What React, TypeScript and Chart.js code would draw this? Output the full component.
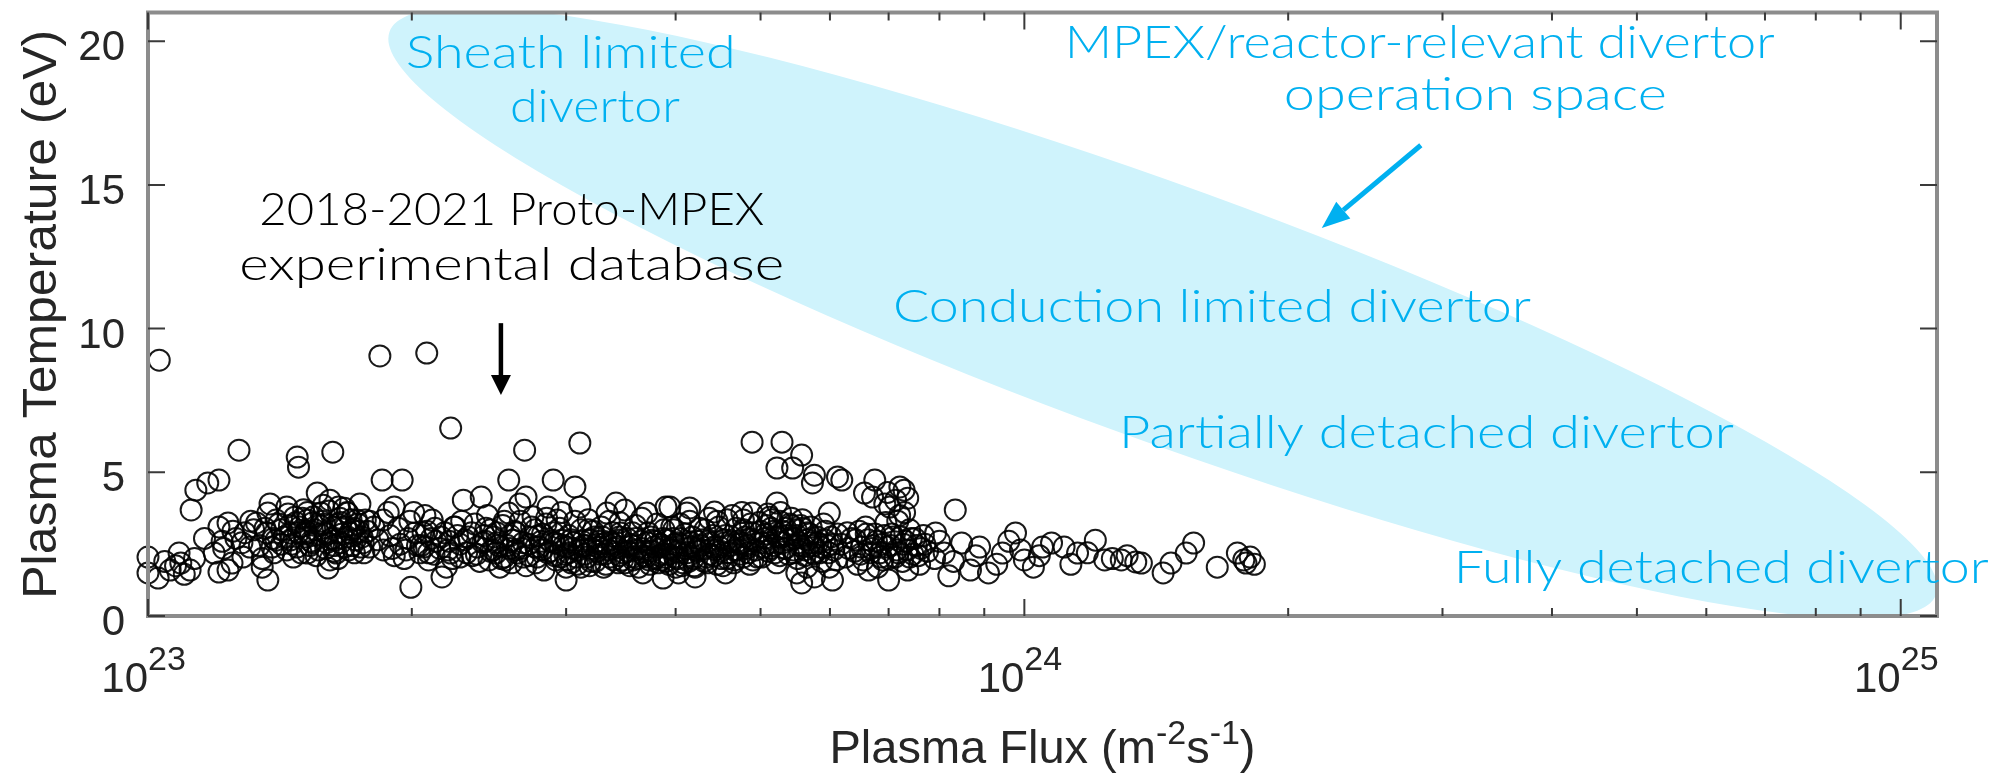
import React, { useEffect, useRef } from 'react';
import { Chart, registerables } from 'chart.js';

Chart.register(...registerables);

// ---------- DATA ----------
// Plasma flux in units of 1e23 m^-2 s^-1
const fluxE23 = [
  1.00, 1.00, 1.027, 1.06, 1.085, 1.09, 1.117, 1.03, 1.045, 1.10, 1.075, 1.13,
  1.12, 1.134, 1.17, 1.205, 1.27, 1.205, 1.234, 1.19, 1.205, 1.234, 1.247, 1.283, 1.307, 1.32, 1.33, 1.35, 1.37, 1.16, 1.215, 1.26, 1.29,
  1.37, 1.40, 1.44, 1.40, 1.385, 1.452, 1.47, 1.51, 1.52, 1.54, 1.48, 1.485, 1.42, 1.49, 1.46, 1.44, 1.52,
  1.35, 1.365, 1.378, 1.392, 1.41, 1.43, 1.445, 1.465, 1.485, 1.50, 1.53, 1.55, 1.565, 1.585, 1.60, 1.625, 1.647, 1.665, 1.687, 1.71, 1.736, 1.763, 1.78,
  1.56, 1.625, 1.613, 1.65, 1.69, 1.73, 1.575, 1.595, 1.635, 1.674, 1.71, 1.755, 1.613, 1.605, 1.64, 1.52, 1.68, 1.72, 1.656, 1.745, 1.70, 1.59,
  1.77, 1.81, 1.79, 1.855, 1.85, 1.95, 1.91, 1.855, 1.97, 1.995, 2.015, 2.065, 2.09, 2.11, 2.165, 2.19, 2.215, 2.235, 2.29, 2.215, 1.839, 2.08, 1.888, 1.94, 2.043, 2.13, 2.18, 1.99, 2.07, 1.91, 2.27,
  1.83, 1.88, 1.90, 1.93, 1.96, 1.98, 2.01, 2.03, 2.06, 2.09, 2.105, 2.125, 2.153, 2.205, 2.225, 2.255, 2.28, 2.31,
  2.32, 2.375, 2.40, 2.46, 2.495, 2.52, 2.58, 2.58, 2.61, 2.64, 2.69, 2.70, 2.765, 2.80, 2.86, 2.90, 2.93, 2.97, 3.00, 3.00,
  3.07, 3.11, 3.11, 3.18, 3.26, 3.34, 3.42, 3.46, 3.50, 3.58, 3.67, 3.71, 3.76, 3.85, 3.94, 3.98, 4.03, 4.12, 4.17, 4.21,
  2.345, 2.36, 2.39, 2.425, 2.44, 2.475, 2.50, 2.53, 2.55, 2.57, 2.60, 2.62, 2.656, 2.67, 2.70, 2.727, 2.75, 2.78, 2.81, 2.83, 2.845, 2.874, 2.90, 2.92, 2.94, 2.965, 2.99, 3.02, 3.05, 3.07,
  3.09, 3.13, 3.15, 3.18, 3.20, 3.23, 3.255, 3.29, 3.31, 3.33, 3.365, 3.39, 3.41, 3.44, 3.454, 3.49, 3.52, 3.546, 3.565, 3.60,
  3.62, 3.65, 3.69, 3.72, 3.74, 3.78, 3.81, 3.83, 3.87, 3.90, 3.93, 3.96, 3.99, 4.02, 4.07, 4.10, 4.12, 4.15, 4.19, 4.24,
  3.90, 4.15, 4.43, 4.89, 5.22, 5.99, 4.78, 5.12, 5.57, 5.76, 6.04, 5.50, 5.99, 4.56, 4.21, 3.87, 4.00, 7.00, 7.36, 6.64, 6.89,
  4.89, 5.29, 5.57, 5.22, 5.44, 5.76, 5.73, 6.12, 6.19, 6.75, 6.57, 6.71, 7.21, 7.29, 7.13, 7.02, 8.34, 6.93, 6.98, 7.30, 7.36, 7.17,
  4.285, 4.32, 4.35, 4.39, 4.42, 4.46, 4.49, 4.53, 4.56, 4.60, 4.64, 4.67, 4.71, 4.75, 4.78, 4.82, 4.86, 4.89, 4.94,
  4.98, 5.015, 5.055, 5.095, 5.135, 5.175, 5.215, 5.258, 5.30, 5.34, 5.38, 5.425, 5.47, 5.51, 5.556, 5.60, 5.645, 5.689, 5.735,
  5.81, 5.87, 5.93, 6.06, 6.25, 6.35, 6.45, 6.52, 6.59, 6.68, 6.75, 6.80, 6.89, 6.95, 7.00, 7.08, 7.15, 7.206, 7.26, 7.32, 7.397, 7.46, 7.53, 7.594, 7.67, 7.755,
  7.92, 8.10, 8.48, 8.68, 8.89, 9.10, 9.44, 9.77, 10.0, 10.24, 10.49, 10.74, 11.1, 11.5, 12.05, 12.35, 12.9, 13.4, 13.6, 14.4, 14.7, 15.3, 15.6, 16.6, 17.5, 17.9, 17.8, 18.3, 18.1,
  8.8, 9.3, 9.6, 8.3, 10.4, 11.3, 11.8, 12.6, 13.1, 8.0, 9.9, 8.2, 7.9,
  1.455, 1.475, 1.495, 1.505, 1.515, 1.535, 1.545, 1.555, 1.57, 1.58, 1.595, 1.61, 1.62, 1.63, 1.645, 1.66, 1.675, 1.695, 1.705, 1.725, 1.74, 1.75,
  2.41, 2.43, 2.45, 2.48, 2.51, 2.54, 2.56, 2.59, 2.63, 2.66, 2.68, 2.72, 2.74, 2.77, 2.79, 2.82, 2.85, 2.88, 2.91, 2.95, 2.98, 3.01, 3.04, 3.08, 3.12, 3.16, 3.19, 3.22, 3.27, 3.32, 3.36, 3.40,
  3.45, 3.48, 3.53, 3.57, 3.61, 3.66, 3.70, 3.75, 3.79, 3.84, 3.88, 3.92, 3.97, 4.01, 4.05, 4.09, 4.14, 4.18, 4.22, 4.26,
  4.30, 4.34, 4.37, 4.41, 4.44, 4.48, 4.51, 4.55, 4.58, 4.62, 4.66, 4.69, 4.73, 4.76, 4.80, 4.84, 4.87, 4.91, 4.96, 5.00,
  5.04, 5.08, 5.11, 5.15, 5.19, 5.24, 5.27, 5.32, 5.36, 5.40, 5.45, 5.49, 5.53, 5.58, 5.62, 5.66, 5.71, 5.75,
  5.84, 5.90, 5.96, 6.02, 6.10, 6.18, 6.28, 6.40, 6.48, 6.55, 6.63, 6.72, 6.84, 6.92, 7.04, 7.12, 7.23, 7.35, 7.43, 7.57, 7.70,
  2.05, 2.08, 2.12, 2.16, 2.20, 2.24, 2.27, 2.30, 2.34, 2.37, 2.42, 2.46, 2.50, 2.55, 2.59, 2.63, 2.68, 2.72, 2.77, 2.82, 2.86, 2.91, 2.96, 3.00,
  3.02, 3.04, 3.06, 3.10, 3.12, 3.14, 3.17, 3.19, 3.21, 3.24, 3.26, 3.28, 3.30, 3.33, 3.35, 3.38, 3.40, 3.43, 3.45, 3.47, 3.50, 3.53,
  3.55, 3.58, 3.60, 3.63, 3.66, 3.68, 3.71, 3.73, 3.76, 3.79, 3.82, 3.85, 3.87, 3.90, 3.93, 3.96, 3.99, 4.02, 4.05, 4.08, 4.11,
  4.14, 4.17, 4.20, 4.24, 4.27, 4.31, 4.35, 4.38, 4.42, 4.46, 4.50, 4.54, 4.58, 4.62, 4.66, 4.70, 4.74, 4.78, 4.82, 4.86, 4.90,
  5.02, 5.06, 5.10, 5.14, 5.18, 5.22, 5.26, 5.30, 5.34, 5.38, 5.42, 5.46, 5.50, 5.54, 5.58, 5.62, 5.66, 5.70, 5.75, 5.80, 5.86, 5.92, 5.98, 6.05, 6.12,
  1.22, 1.25, 1.28, 1.31, 1.34, 1.36, 1.39, 1.42, 1.45, 1.48, 1.51, 1.54, 1.57, 1.60, 1.63, 1.66, 1.69, 1.72, 1.76, 1.79,
  6.30, 6.42, 6.50, 6.60, 6.70, 6.78, 6.86, 6.97, 7.06, 7.18, 7.28, 7.40, 7.50, 7.62,
];

// Plasma temperature in eV
const temperatureEV = [
  2.05, 1.50, 1.32, 1.60, 2.19, 1.84, 1.60, 8.90, 1.90, 1.45, 1.75, 2.00,
  3.69, 4.38, 4.63, 4.73, 5.77, 3.10, 3.24, 2.19, 1.53, 1.60, 1.84, 2.05, 2.40, 3.00, 3.24, 1.70, 1.25, 2.70, 2.60, 2.70, 2.90,
  3.58, 3.34, 3.79, 2.64, 2.40, 2.89, 3.44, 2.75, 2.19, 3.24, 5.53, 5.18, 3.00, 3.10, 2.50, 2.30, 3.60,
  2.00, 2.90, 3.90, 2.20, 3.20, 2.75, 3.55, 2.05, 2.90, 3.40, 2.45, 3.00, 2.30, 3.85, 2.55, 3.10, 2.00, 2.85, 3.60, 2.45, 3.20, 2.20, 2.95,
  4.28, 5.70, 4.03, 3.79, 3.58, 3.34, 3.58, 2.89, 2.64, 2.40, 3.00, 2.75, 1.95, 1.67, 2.19, 3.34, 3.10, 2.20, 3.40, 3.90, 2.90, 3.20,
  3.34, 3.10, 2.40, 2.30, 4.73, 4.73, 3.79, 3.34, 2.30, 1.00, 2.89, 2.40, 1.95, 3.34, 1.36, 1.70, 2.19, 3.10, 4.03, 6.54, 9.05, 9.15, 2.80, 2.50, 2.20, 2.60, 2.90, 3.30, 3.50, 2.10, 2.50,
  2.65, 3.60, 2.35, 3.05, 2.00, 2.70, 3.60, 2.45, 2.90, 2.20, 2.70, 3.05, 2.35, 2.60, 2.00, 2.80, 3.30, 2.20,
  2.75, 2.40, 4.14, 3.00, 2.19, 1.70, 4.73, 3.58, 2.64, 2.19, 5.77, 4.14, 3.00, 2.40, 3.79, 4.73, 3.34, 2.64, 1.70, 1.25,
  4.49, 6.02, 3.79, 3.00, 2.40, 3.58, 3.93, 2.89, 3.69, 1.95, 1.50, 3.58, 2.64, 1.95, 3.79, 3.00, 1.50, 3.58, 2.40, 1.70,
  2.10, 3.20, 1.90, 2.60, 3.50, 2.30, 2.90, 2.00, 3.30, 2.45, 1.85, 2.95, 3.90, 2.35, 1.75, 2.75, 3.45, 2.05, 2.60, 1.60, 3.20, 2.25, 2.90, 1.95, 2.50, 3.60, 2.15, 2.80, 2.35, 3.30,
  1.80, 2.60, 2.15, 3.35, 1.90, 2.75, 2.25, 3.10, 1.70, 2.55, 2.05, 2.90, 2.35, 1.85, 3.25, 2.20, 2.70, 1.75, 2.45, 3.15,
  2.00, 2.60, 2.25, 2.90, 1.80, 2.40, 3.20, 2.10, 2.70, 1.90, 2.35, 3.10, 2.05, 2.55, 1.75, 2.85, 2.20, 3.30, 2.00, 2.60,
  3.79, 3.76, 3.62, 3.58, 3.93, 3.58, 3.34, 3.44, 1.15, 1.36, 1.25, 1.50, 1.70, 1.50, 1.36, 1.32, 1.70, 1.25, 1.60, 1.60, 1.95,
  6.05, 6.05, 5.60, 5.15, 5.15, 4.90, 4.63, 4.84, 4.73, 4.73, 4.28, 4.14, 4.49, 4.38, 4.03, 3.79, 3.69, 3.90, 4.30, 3.60, 4.10, 3.30,
  2.30, 3.00, 1.85, 2.55, 2.10, 3.30, 2.40, 1.75, 2.80, 2.20, 3.50, 1.95, 2.60, 2.15, 3.00, 2.45, 1.80, 2.90, 2.30,
  3.25, 2.05, 2.70, 3.55, 2.35, 2.95, 1.85, 3.30, 2.55, 3.05, 2.15, 3.40, 2.70, 2.00, 3.15, 2.45, 1.70, 2.85, 2.20,
  2.55, 1.90, 2.95, 2.30, 2.05, 2.70, 1.80, 2.40, 3.10, 2.20, 2.85, 1.70, 2.50, 3.25, 2.00, 2.75, 2.30, 3.50, 1.90, 2.60, 3.00, 2.15, 2.45, 1.80, 2.80, 2.25,
  2.89, 2.19, 2.54, 1.60, 2.40, 1.50, 2.19, 2.89, 1.95, 1.70, 2.40, 2.54, 2.40, 2.19, 2.64, 1.95, 1.95, 1.88, 1.84, 1.50, 1.84, 2.19, 2.54, 1.70, 2.19, 1.84, 1.95, 1.80, 2.05,
  2.10, 1.80, 2.60, 1.90, 2.10, 1.80, 2.20, 2.00, 2.10, 2.60, 2.30, 1.40, 2.00,
  2.65, 3.25, 2.20, 3.70, 2.95, 2.60, 3.45, 2.10, 2.85, 3.30, 2.35, 3.65, 2.70, 2.25, 3.20, 2.55, 3.75, 2.30, 3.35, 2.65, 2.95, 2.40,
  2.55, 3.05, 1.95, 2.75, 2.45, 3.15, 1.95, 2.80, 2.30, 3.30, 2.05, 2.50, 3.10, 1.85, 2.80, 2.30, 3.40, 2.60, 2.10, 3.05, 2.45, 1.95, 2.65, 2.05, 3.00, 2.45, 1.75, 2.95, 2.60, 2.15, 3.30, 2.50,
  2.75, 1.95, 2.40, 2.90, 2.30, 3.40, 2.05, 2.75, 2.00, 2.50, 3.00, 2.15, 2.70, 2.25, 3.20, 2.45, 1.90, 2.75, 2.30, 3.05,
  2.65, 2.05, 3.40, 2.80, 2.30, 3.10, 2.00, 2.55, 3.35, 2.60, 2.30, 3.05, 2.50, 3.60, 2.75, 2.20, 3.20, 2.60, 2.05, 2.95,
  2.40, 3.15, 2.55, 3.35, 2.20, 2.75, 3.60, 2.35, 2.80, 3.20, 2.30, 3.00, 2.55, 3.35, 2.10, 2.65, 3.10, 2.45,
  2.20, 3.20, 2.45, 2.75, 1.95, 2.50, 2.90, 2.25, 2.95, 1.95, 2.65, 2.45, 2.20, 2.80, 2.45, 2.05, 2.75, 2.30, 2.70, 2.10, 2.50,
  2.45, 2.95, 2.15, 2.75, 2.30, 3.10, 2.05, 2.65, 2.90, 2.15, 2.80, 2.25, 2.55, 2.05, 2.35, 2.90, 2.55, 2.10, 2.40, 2.85, 2.20, 2.55, 2.05, 2.40,
  2.20, 1.85, 2.55, 2.30, 1.70, 2.45, 2.05, 2.65, 2.35, 1.90, 2.50, 2.15, 2.75, 1.80, 2.30, 2.55, 1.95, 2.40, 2.10, 2.65, 1.85, 2.25,
  2.50, 2.05, 2.70, 1.70, 2.35, 2.10, 2.55, 1.95, 2.25, 2.60, 1.85, 2.40, 2.15, 2.65, 1.80, 2.30, 2.50, 2.00, 2.70, 1.85, 2.35,
  2.10, 2.55, 1.75, 2.25, 2.45, 1.90, 2.60, 2.15, 2.40, 1.80, 2.25, 2.65, 2.00, 2.45, 1.85, 2.30, 2.55, 2.05, 2.35, 2.70, 1.95,
  2.55, 2.85, 2.25, 3.05, 2.45, 2.75, 2.10, 2.95, 2.35, 2.65, 3.15, 2.20, 2.80, 2.45, 3.05, 2.30, 2.90, 2.55, 2.15, 2.75, 2.40, 2.65, 2.20, 2.50, 2.85,
  2.35, 2.95, 2.55, 3.30, 2.45, 3.05, 2.70, 2.50, 3.15, 2.40, 2.85, 2.55, 3.15, 2.85, 2.45, 3.25, 2.75, 3.05, 2.55, 3.30,
  2.35, 2.65, 2.15, 2.85, 2.35, 2.60, 2.05, 2.40, 2.85, 2.20, 2.50, 2.05, 2.70, 2.35,
];

const yTickValues = [0, 5, 10, 15, 20];
const yTickLabels = ['0', '5', '10', '15', '20'];
const xMajorExponents = [23, 24, 25];
const xMinorMultipliers = [2, 3, 4, 5, 6, 7, 8, 9];

const X_MIN = 1e23;
const X_MAX = 1.1e25;
const Y_MIN = 0;
const Y_MAX = 21;

const CYAN = 'rgb(0,176,240)';
const ELLIPSE_FILL = 'rgb(207,243,252)';
const AXIS_TEXT = '#262626';
const ANNOT_FONT = '300 46px Lato, "Noto Sans", sans-serif';

// Annotations in data coordinates (log10 flux, temperature)
const annotationTexts = [
  { text: 'Sheath limited', lx: 23.294, t: 19.06, w: 330, color: CYAN },
  { text: 'divertor', lx: 23.413, t: 17.18, w: 170, color: CYAN },
  { text: 'MPEX/reactor-relevant divertor', lx: 24.046, t: 19.41, w: 710, color: CYAN },
  { text: 'operation space', lx: 24.296, t: 17.6, w: 383, color: CYAN },
  { text: '2018-2021 Proto-MPEX', lx: 23.127, t: 13.6, w: 505, color: '#000' },
  { text: 'experimental database', lx: 23.104, t: 11.69, w: 545, color: '#000' },
  { text: 'Conduction limited divertor', lx: 23.85, t: 10.23, w: 638, color: CYAN },
  { text: 'Partially detached divertor', lx: 24.108, t: 5.84, w: 615, color: CYAN },
  { text: 'Fully detached divertor', lx: 24.49, t: 1.15, w: 535, color: CYAN },
];

const annotationArrows = [
  { from: [24.4524, 16.38], to: [24.3394, 13.5], color: CYAN, lw: 5, head: 28, headW: 22 },
  { from: [23.4027, 10.19], to: [23.4027, 7.69], color: '#000', lw: 4.5, head: 20, headW: 20 },
];

// Operation-space ellipse: centre, end of major axis, end of minor axis (log10 flux, temperature)
const ellipseDef = { center: [24.158, 10.54], major: [25.0404, 0.748], minor: [24.1085, 6.39] };

function drawFitText(ctx: CanvasRenderingContext2D, text: string, x: number, y: number, font: string,
  color: string, align: CanvasTextAlign, width?: number) {
  ctx.save();
  ctx.font = font;
  ctx.fillStyle = color;
  ctx.textBaseline = 'alphabetic';
  ctx.textAlign = align;
  const m = ctx.measureText(text).width;
  const s = width ? width / m : 1;
  ctx.translate(x, y);
  ctx.scale(s, 1);
  ctx.fillText(text, 0, 0);
  ctx.restore();
}

function drawArrow(ctx: CanvasRenderingContext2D, x1: number, y1: number, x2: number, y2: number,
  color: string, lw: number, headLen: number, headW: number) {
  const ang = Math.atan2(y2 - y1, x2 - x1);
  const bx = x2 - headLen * Math.cos(ang);
  const by = y2 - headLen * Math.sin(ang);
  ctx.save();
  ctx.strokeStyle = color;
  ctx.lineWidth = lw;
  ctx.beginPath();
  ctx.moveTo(x1, y1);
  ctx.lineTo(bx, by);
  ctx.stroke();
  ctx.fillStyle = color;
  ctx.beginPath();
  ctx.moveTo(x2, y2);
  ctx.lineTo(bx + (headW / 2) * Math.sin(ang), by - (headW / 2) * Math.cos(ang));
  ctx.lineTo(bx - (headW / 2) * Math.sin(ang), by + (headW / 2) * Math.cos(ang));
  ctx.closePath();
  ctx.fill();
  ctx.restore();
}

const decorPlugin = {
  id: 'decor',
  beforeDatasetsDraw(chart: any) {
    const { ctx, chartArea: ca, scales } = chart;
    const xs = scales.x, ys = scales.y;
    const px = (lx: number) => xs.getPixelForValue(Math.pow(10, lx));
    const py = (t: number) => ys.getPixelForValue(t);
    const cx = px(ellipseDef.center[0]), cy = py(ellipseDef.center[1]);
    const mx = px(ellipseDef.major[0]), my = py(ellipseDef.major[1]);
    const nx = px(ellipseDef.minor[0]), ny = py(ellipseDef.minor[1]);
    const a = Math.hypot(mx - cx, my - cy);
    const b = Math.hypot(nx - cx, ny - cy);
    const rot = Math.atan2(my - cy, mx - cx);
    ctx.save();
    ctx.beginPath();
    ctx.rect(ca.left, ca.top, ca.right - ca.left, ca.bottom - ca.top);
    ctx.clip();
    ctx.beginPath();
    ctx.ellipse(cx, cy, a, b, rot, 0, Math.PI * 2);
    ctx.fillStyle = ELLIPSE_FILL;
    ctx.fill();
    ctx.restore();
  },
  afterDraw(chart: any) {
    const { ctx, chartArea: ca, scales } = chart;
    const xs = scales.x, ys = scales.y;
    const px = (lx: number) => xs.getPixelForValue(Math.pow(10, lx));
    const py = (t: number) => ys.getPixelForValue(t);

    // frame
    ctx.save();
    ctx.strokeStyle = '#8c8c8c';
    ctx.lineWidth = 4;
    ctx.strokeRect(ca.left, ca.top, ca.right - ca.left, ca.bottom - ca.top);
    ctx.restore();

    // ticks
    ctx.save();
    ctx.strokeStyle = '#3a3a3a';
    ctx.lineWidth = 2;
    ctx.beginPath();
    yTickValues.forEach((v) => {
      const y = ys.getPixelForValue(v);
      ctx.moveTo(ca.left, y); ctx.lineTo(ca.left + 17, y);
      ctx.moveTo(ca.right, y); ctx.lineTo(ca.right - 17, y);
    });
    xMajorExponents.forEach((e) => {
      const v = Math.pow(10, e);
      if (v < X_MIN || v > X_MAX) return;
      const x = xs.getPixelForValue(v);
      ctx.moveTo(x, ca.bottom); ctx.lineTo(x, ca.bottom - 17);
      ctx.moveTo(x, ca.top); ctx.lineTo(x, ca.top + 17);
    });
    xMajorExponents.forEach((e) => {
      xMinorMultipliers.forEach((m) => {
        const v = m * Math.pow(10, e);
        if (v < X_MIN || v > X_MAX) return;
        const x = xs.getPixelForValue(v);
        ctx.moveTo(x, ca.bottom); ctx.lineTo(x, ca.bottom - 8);
        ctx.moveTo(x, ca.top); ctx.lineTo(x, ca.top + 8);
      });
    });
    ctx.stroke();
    ctx.restore();

    // y tick labels
    yTickValues.forEach((v, i) => {
      const y = ys.getPixelForValue(v);
      drawFitText(ctx, yTickLabels[i], ca.left - 23, y + 19, '42px "Liberation Sans", Arial, sans-serif', AXIS_TEXT, 'right');
    });
    // x tick labels 10^n
    xMajorExponents.forEach((e) => {
      const x = xs.getPixelForValue(Math.pow(10, e));
      drawFitText(ctx, '10', x, ca.bottom + 76, '42px "Liberation Sans", Arial, sans-serif', AXIS_TEXT, 'right');
      drawFitText(ctx, String(e), x, ca.bottom + 54, '34px "Liberation Sans", Arial, sans-serif', AXIS_TEXT, 'left');
    });

    // x title with superscripts
    const parts = [
      { t: 'Plasma Flux (m', sup: false },
      { t: '-2', sup: true },
      { t: 's', sup: false },
      { t: '-1', sup: true },
      { t: ')', sup: false },
    ];
    const baseFont = '47px "Liberation Sans", Arial, sans-serif';
    const supFont = '34px "Liberation Sans", Arial, sans-serif';
    ctx.save();
    let total = 0;
    parts.forEach((p) => { ctx.font = p.sup ? supFont : baseFont; total += ctx.measureText(p.t).width; });
    let xx = (ca.left + ca.right) / 2 - total / 2;
    const base = ca.bottom + 147;
    parts.forEach((p) => {
      ctx.font = p.sup ? supFont : baseFont;
      ctx.fillStyle = AXIS_TEXT;
      ctx.textAlign = 'left';
      ctx.textBaseline = 'alphabetic';
      ctx.fillText(p.t, xx, p.sup ? base - 19 : base);
      xx += ctx.measureText(p.t).width;
    });
    ctx.restore();

    // y title
    ctx.save();
    ctx.translate(56, (ca.top + ca.bottom) / 2);
    ctx.rotate(-Math.PI / 2);
    drawFitText(ctx, 'Plasma Temperature (eV)', 0, 0, '48px "Liberation Sans", Arial, sans-serif', AXIS_TEXT, 'center', 569);
    ctx.restore();

    // annotations
    annotationTexts.forEach((a) => {
      drawFitText(ctx, a.text, px(a.lx), py(a.t), ANNOT_FONT, a.color, 'left', a.w);
    });
    annotationArrows.forEach((a) => {
      drawArrow(ctx, px(a.from[0]), py(a.from[1]), px(a.to[0]), py(a.to[1]), a.color, a.lw, a.head, a.headW);
    });
  },
};

export default function App() {
  const ref = useRef<HTMLCanvasElement | null>(null);
  useEffect(() => {
    if (!ref.current) return;
    const points = fluxE23.map((f, i) => ({ x: f * 1e23, y: temperatureEV[i] }));
    const chart = new Chart(ref.current, {
      type: 'scatter',
      data: {
        datasets: [
          {
            label: 'Proto-MPEX database',
            data: points,
            pointStyle: 'circle',
            pointRadius: 10.5,
            pointBorderWidth: 2,
            pointBorderColor: 'rgba(0,0,0,0.9)',
            pointBackgroundColor: 'rgba(0,0,0,0)',
            clip: false as any,
          },
        ],
      },
      options: {
        animation: false,
        responsive: false,
        devicePixelRatio: 1,
        events: [],
        layout: { padding: { left: 148, top: 12, right: 70, bottom: 164 } },
        plugins: { legend: { display: false }, tooltip: { enabled: false }, title: { display: false } },
        scales: {
          x: { type: 'logarithmic', min: X_MIN, max: X_MAX, display: false },
          y: { type: 'linear', min: Y_MIN, max: Y_MAX, display: false },
        },
      },
      plugins: [decorPlugin],
    });
    return () => chart.destroy();
  }, []);
  return (
    <div style={{ position: 'absolute', left: 0, top: 0, width: 2007, height: 780, background: '#fff' }}>
      <canvas ref={ref} width={2007} height={780} style={{ display: 'block' }} />
    </div>
  );
}
